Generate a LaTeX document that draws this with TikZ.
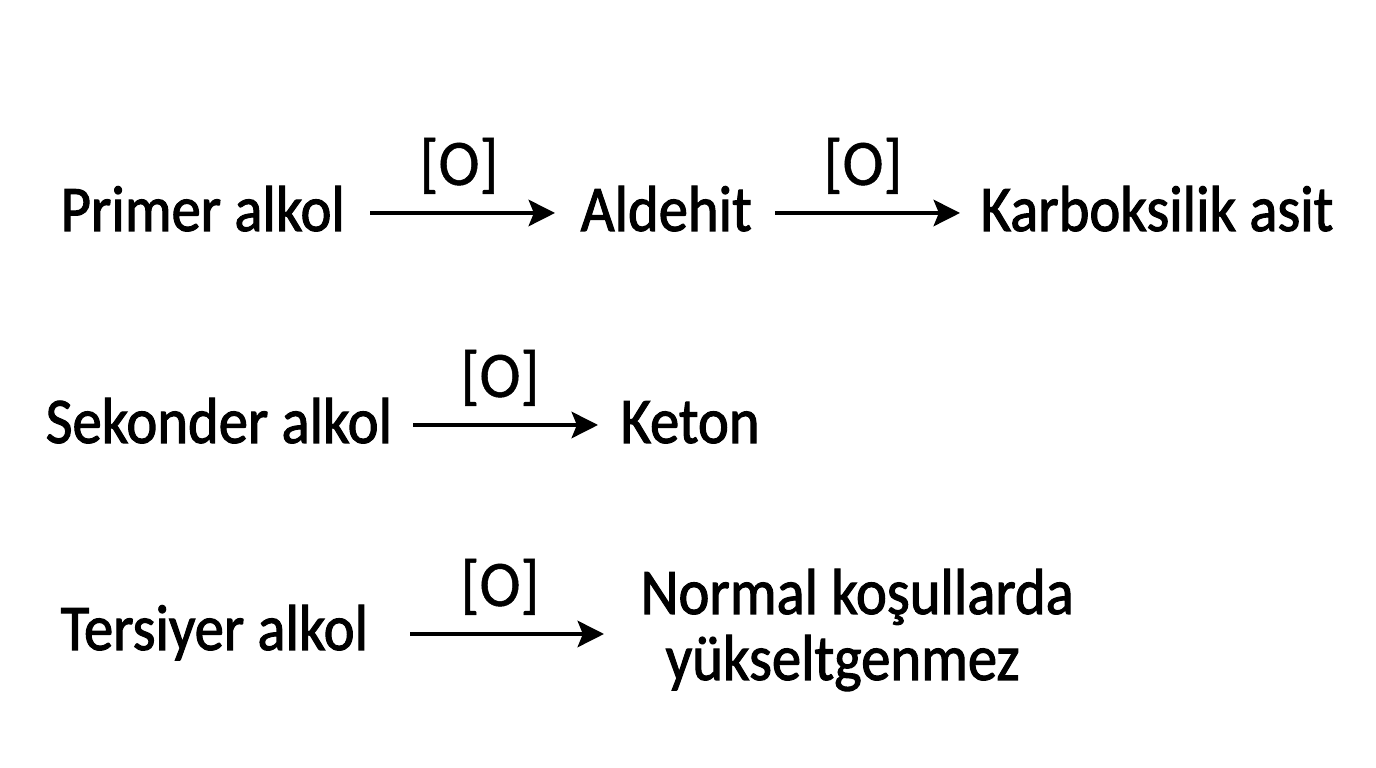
\documentclass[tikz,border=0pt]{standalone}
\usepackage{fontspec}
\setmainfont{Carlito}[BoldFont=Carlito, BoldFeatures={FakeBold=1.6, FakeStretch=0.90}]
\newfontfamily\oxfont{Carlito}[FakeBold=0.8, FakeStretch=0.95]
\usetikzlibrary{arrows.meta}
\begin{document}
\begin{tikzpicture}[x=0.01cm,y=-0.01cm,
  lbl/.style={font=\fontsize{18.5pt}{22pt}\selectfont\bfseries, inner sep=0pt, anchor=base west},
  ox/.style={font=\oxfont\fontsize{18.5pt}{22pt}\selectfont, inner sep=0pt, anchor=base},
  rxn/.style={line width=1.1pt, -{Stealth[length=7.5pt,width=7.5pt,inset=1.5pt]}}]
\useasboundingbox (0,0) rectangle (1376,768);
\node[lbl] (p) at (60,231) {Primer alkol};
\node[lbl] (a) at (580,231) {Aldehit};
\node[lbl] (k) at (980,231) {Karboksilik asit};
\coordinate (a1s) at (370,213); \coordinate (a1e) at (555,213);
\coordinate (a2s) at (775,213); \coordinate (a2e) at (960,213);
\draw[rxn] (a1s) -- (a1e);
\draw[rxn] (a2s) -- (a2e);
\node[ox] (o1) at (459,185) {[O]};
\node[ox] (o2) at (863,185) {[O]};
\node[lbl] (s) at (45,443) {Sekonder alkol};
\node[lbl] (ke) at (620,443) {Keton};
\coordinate (b1s) at (413,425); \coordinate (b1e) at (598,425);
\draw[rxn] (b1s) -- (b1e);
\node[ox] (o3) at (500,397) {[O]};
\node[lbl] (t) at (60,650) {Tersiyer alkol};
\coordinate (c1s) at (410,634); \coordinate (c1e) at (604,634);
\draw[rxn] (c1s) -- (c1e);
\node[ox] (o4) at (500,606) {[O]};
\node[lbl] (n1) at (640,614) {Normal koşullarda};
\node[lbl] (n2) at (665,680) {yükseltgenmez};
\end{tikzpicture}
\end{document}
